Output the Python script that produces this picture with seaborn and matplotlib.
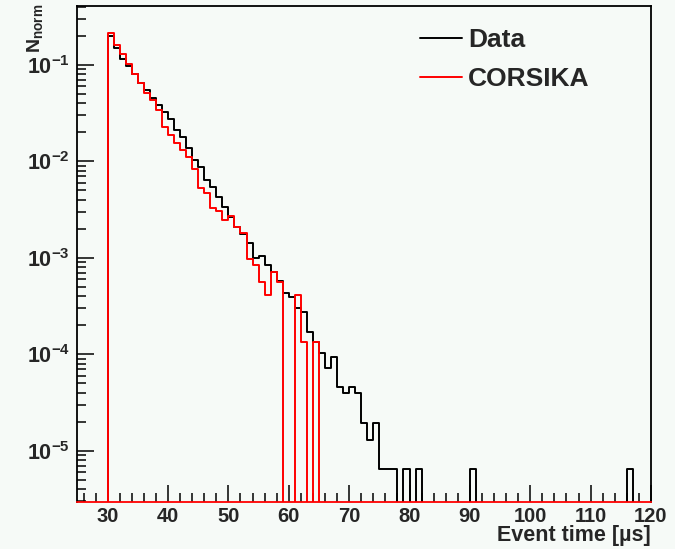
import numpy as np
import pandas as pd
import matplotlib
matplotlib.use("Agg")
import matplotlib.pyplot as plt
from matplotlib.lines import Line2D
from matplotlib.ticker import MultipleLocator, LogLocator, NullFormatter, FixedLocator, FixedFormatter
import seaborn as sns

# Histogram binning: 1 µs bins, axis from 25 to 120 µs; first filled bin starts at 30 µs
axis_start = 25
first_bin = 30
last_edge = 120

# Normalised event-time distributions, one value per 1 µs bin from 30 to 119 µs
data_norm = [
    0.201, 0.150, 0.115, 0.0970, 0.0807, 0.0658, 0.0547, 0.0460, 0.0389, 0.0329,
    0.0273, 0.0212, 0.0179, 0.0138, 0.0103, 0.00875, 0.00641, 0.00547, 0.00431, 0.00339,
    0.00267, 0.00210, 0.00177, 0.00141, 0.000988, 0.00104, 0.000842, 0.000718, 0.000574, 0.000428,
    0.000395, 0.000299, 0.000276, 0.000168, 0.000133, 0.000102, 7.14e-5, 9.29e-5, 4.60e-5, 3.93e-5,
    4.53e-5, 3.93e-5, 1.95e-5, 1.29e-5, 1.95e-5, 6.4e-6, 6.4e-6, 6.4e-6, 0, 6.4e-6,
    0, 6.4e-6, 0, 0, 0, 0, 0, 0, 0, 0,
    6.4e-6, 0, 0, 0, 0, 0, 0, 0, 0, 0,
    0, 0, 0, 0, 0, 0, 0, 0, 0, 0,
    0, 0, 0, 0, 0, 0, 6.4e-6, 0, 0, 0,
]
corsika_norm = [
    0.216, 0.161, 0.130, 0.103, 0.0807, 0.0650, 0.0508, 0.0433, 0.0341, 0.0229,
    0.0188, 0.0154, 0.0131, 0.0112, 0.00828, 0.00526, 0.00467, 0.00326, 0.00308, 0.00247,
    0.00272, 0.00210, 0.00179, 0.000964, 0.000842, 0.000565, 0.000411, 0.000718, 0.000565, 0,
    0, 0.000411, 0.000134, 0, 0.000134, 0, 0, 0, 0, 0,
    0, 0, 0, 0, 0, 0, 0, 0, 0, 0,
    0, 0, 0, 0, 0, 0, 0, 0, 0, 0,
    0, 0, 0, 0, 0, 0, 0, 0, 0, 0,
    0, 0, 0, 0, 0, 0, 0, 0, 0, 0,
    0, 0, 0, 0, 0, 0, 0, 0, 0, 0,
]

series_names = ["Data", "CORSIKA"]
series_colors = ["#000000", "#ff0000"]
x_label = "Event time [µs]"
y_label = r"$N_{norm}$"
x_major = [30, 40, 50, 60, 70, 80, 90, 100, 110, 120]
y_major = [1e-5, 1e-4, 1e-3, 1e-2, 1e-1]
y_major_labels = [r"$10^{-5}$", r"$10^{-4}$", r"$10^{-3}$", r"$10^{-2}$", r"$10^{-1}$"]

edges = np.arange(axis_start, last_edge + 1, 1.0)
centers = edges[:-1] + 0.5
n_lead = first_bin - axis_start
df = pd.DataFrame({
    "t": centers,
    "Data": np.concatenate([np.zeros(n_lead), data_norm]),
    "CORSIKA": np.concatenate([np.zeros(n_lead), corsika_norm]),
})

bg = "#f6faf7"
sns.set_theme(style="ticks")
plt.rcParams.update({
    "font.family": ["Liberation Sans", "DejaVu Sans"],
    "font.weight": "bold",
    "mathtext.fontset": "custom",
    "mathtext.rm": "Liberation Sans:bold",
    "mathtext.it": "Liberation Sans:bold",
    "mathtext.bf": "Liberation Sans:bold",
    "mathtext.sf": "Liberation Sans:bold",
    "mathtext.default": "rm",
    "figure.facecolor": bg,
    "axes.facecolor": bg,
    "savefig.facecolor": bg,
})

fig = plt.figure(figsize=(6.75, 5.49), dpi=100)
ax = fig.add_axes([0.1148, 0.0862, 0.8496, 0.9029])

for name, color in zip(series_names, series_colors):
    sns.histplot(data=df, x="t", weights=name, binwidth=1.0,
                 binrange=(axis_start, last_edge), element="step",
                 fill=False, color=color, linewidth=1.4, ax=ax)

ax.set_yscale("log")
ax.set_xlim(axis_start, last_edge)
ax.set_ylim(2.95e-6, 0.41)

# ROOT-like frame and inward ticks on the left/bottom only
for side in ["left", "top", "right"]:
    ax.spines[side].set_color("black")
    ax.spines[side].set_linewidth(1.3)
ax.spines["bottom"].set_color("#ff0000")
ax.spines["bottom"].set_linewidth(1.3)

ax.xaxis.set_major_locator(FixedLocator(x_major))
ax.xaxis.set_minor_locator(MultipleLocator(2))
ax.yaxis.set_major_locator(FixedLocator(y_major))
ax.yaxis.set_major_formatter(FixedFormatter(y_major_labels))
ax.yaxis.set_minor_locator(LogLocator(base=10, subs=np.arange(2, 10)))
ax.yaxis.set_minor_formatter(NullFormatter())

ax.tick_params(axis="both", which="both", direction="in", color="black",
               top=False, right=False, width=1.1)
ax.tick_params(axis="both", which="major", length=12.5)
ax.tick_params(axis="both", which="minor", length=6.2)
ax.tick_params(axis="x", which="major", labelsize=14.5, pad=4)
ax.tick_params(axis="y", which="major", labelsize=15.5, pad=5.5)
for lab in ax.get_xticklabels() + ax.get_yticklabels():
    lab.set_fontweight("bold")

ax.set_xlabel(x_label, fontsize=15.5, fontweight="bold", loc="right")
ax.xaxis.set_label_coords(1.0, -0.048)
ax.set_ylabel(y_label, fontsize=14, loc="top")
ax.yaxis.set_label_coords(-0.057, 1.005)

handles = [Line2D([], [], color=c, lw=1.4) for c in series_colors]
ax.legend(handles, series_names, loc="upper left", bbox_to_anchor=(0.578, 0.977),
          frameon=False, prop={"size": 19, "weight": "bold"},
          handlelength=1.6, handletextpad=0.25, labelspacing=0.57, borderaxespad=0)

fig.savefig("out.png", dpi=100)
